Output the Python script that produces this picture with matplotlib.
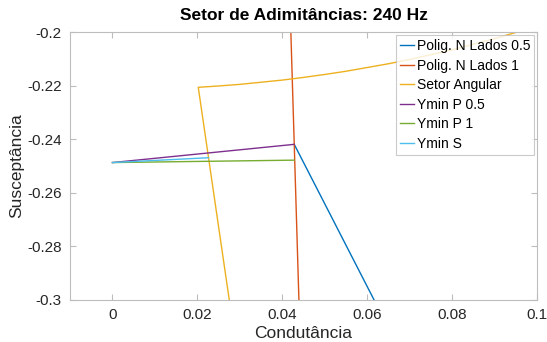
import numpy as np
import matplotlib.pyplot as plt

plt.rcParams['font.family'] = ['Liberation Sans', 'DejaVu Sans']

# Polig. N Lados 0.5
poly05_g = [0.0428, 0.0616, 0.0700]
poly05_b = [-0.2419, -0.3000, -0.3250]
# Polig. N Lados 1
poly1_g = [0.0418, 0.0420, 0.0428, 0.0439, 0.0443]
poly1_b = [-0.1900, -0.2000, -0.2419, -0.3000, -0.3200]
# Setor Angular (radial edge + arc)
setor_g = [0.0300, 0.0275, 0.0202, 0.0250, 0.0300, 0.0350, 0.0400, 0.0450,
           0.0500, 0.0550, 0.0600, 0.0650, 0.0700, 0.0750, 0.0800, 0.0850,
           0.0900, 0.0950, 0.1000]
setor_b = [-0.3300, -0.3000, -0.2206, -0.2201, -0.2195, -0.2187, -0.2179, -0.2169,
           -0.2158, -0.2146, -0.2132, -0.2118, -0.2102, -0.2084, -0.2066, -0.2045,
           -0.2024, -0.2001, -0.1976]
# Ymin lines
ymin_p05_g = [0.0, 0.0428]
ymin_p05_b = [-0.2487, -0.2419]
ymin_p1_g = [0.0, 0.0428]
ymin_p1_b = [-0.2487, -0.2478]
ymin_s_g = [0.0, 0.0226]
ymin_s_b = [-0.2487, -0.2469]

labels = ['Polig. N Lados 0.5', 'Polig. N Lados 1', 'Setor Angular',
          'Ymin P 0.5', 'Ymin P 1', 'Ymin S']
colors = ['#0072BD', '#D95319', '#EDB120', '#7E2F8E', '#77AC30', '#4DBEEE']

fig = plt.figure(figsize=(5.47, 3.42), dpi=100)
ax = fig.add_axes([0.128, 0.123, 0.854, 0.783])

series = [(poly05_g, poly05_b), (poly1_g, poly1_b), (setor_g, setor_b),
          (ymin_p05_g, ymin_p05_b), (ymin_p1_g, ymin_p1_b), (ymin_s_g, ymin_s_b)]
for (g, b), lab, c in zip(series, labels, colors):
    ax.plot(g, b, color=c, lw=1.0, label=lab)

ax.set_xlim(-0.01, 0.1)
ax.set_ylim(-0.3, -0.2)
ax.set_xticks([0, 0.02, 0.04, 0.06, 0.08, 0.1])
ax.set_xticklabels(['0', '0.02', '0.04', '0.06', '0.08', '0.1'])
ax.set_yticks([-0.3, -0.28, -0.26, -0.24, -0.22, -0.2])
ax.set_yticklabels(['-0.3', '-0.28', '-0.26', '-0.24', '-0.22', '-0.2'])

axis_gray = '#bdbdbd'
for s in ax.spines.values():
    s.set_color(axis_gray)
    s.set_linewidth(0.8)
ax.tick_params(direction='in', top=True, right=True, length=4, width=0.8,
               color=axis_gray, labelcolor='#262626', labelsize=11, pad=6)

ax.set_xlabel('Condutância', fontsize=12.5, color='#262626', labelpad=3)
ax.set_ylabel('Susceptância', fontsize=12.5, color='#262626', labelpad=2)
ax.set_title('Setor de Adimitâncias: 240 Hz', fontsize=12.5, fontweight='bold', pad=9)

leg = ax.legend(loc='upper right', fontsize=10, frameon=True, fancybox=False,
                edgecolor=axis_gray, handlelength=1.0, handletextpad=0.2,
                borderaxespad=0.2, labelspacing=0.4, borderpad=0.3)
leg.get_frame().set_linewidth(0.8)

fig.savefig('out.png', dpi=100)
